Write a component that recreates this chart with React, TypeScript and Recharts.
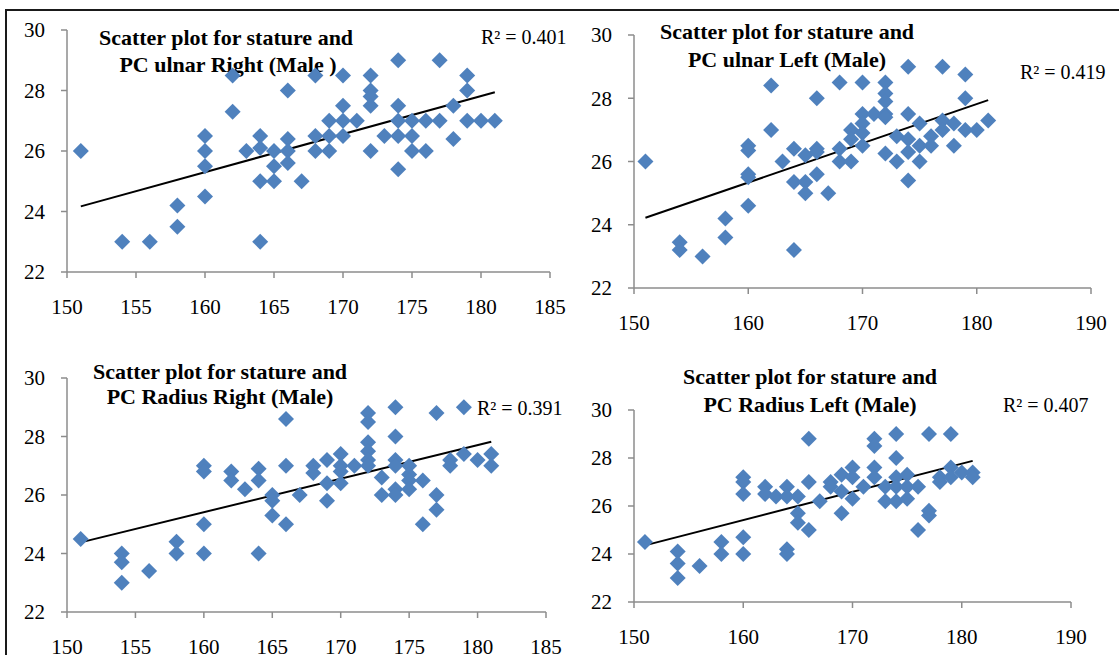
import React from "react"
import { ReferenceLine, Scatter, ScatterChart, XAxis, YAxis } from "recharts"

// stature (cm) vs PC ulnar / radius length, males
const ulnarRight = [
  { x: 151, y: 26 }, { x: 154, y: 23 }, { x: 156, y: 23 }, { x: 158, y: 24.2 }, { x: 158, y: 23.5 },
  { x: 160, y: 26.5 }, { x: 160, y: 26 }, { x: 160, y: 25.5 }, { x: 160, y: 24.5 }, { x: 162, y: 28.5 },
  { x: 162, y: 27.3 }, { x: 163, y: 26 }, { x: 164, y: 26.5 }, { x: 164, y: 26.1 }, { x: 164, y: 25 },
  { x: 164, y: 23 }, { x: 165, y: 26 }, { x: 165, y: 25.5 }, { x: 165, y: 25 }, { x: 166, y: 28 },
  { x: 166, y: 26.4 }, { x: 166, y: 26 }, { x: 166, y: 25.6 }, { x: 167, y: 25 }, { x: 168, y: 28.5 },
  { x: 168, y: 26.5 }, { x: 168, y: 26 }, { x: 169, y: 27 }, { x: 169, y: 26.5 }, { x: 169, y: 26 },
  { x: 170, y: 28.5 }, { x: 170, y: 27.5 }, { x: 170, y: 27 }, { x: 170, y: 26.5 }, { x: 171, y: 27 },
  { x: 172, y: 28.5 }, { x: 172, y: 28 }, { x: 172, y: 27.8 }, { x: 172, y: 27.5 }, { x: 172, y: 26 },
  { x: 173, y: 26.5 }, { x: 174, y: 29 }, { x: 174, y: 27.5 }, { x: 174, y: 27 }, { x: 174, y: 26.5 },
  { x: 174, y: 25.4 }, { x: 175, y: 27 }, { x: 175, y: 26.5 }, { x: 175, y: 26 }, { x: 176, y: 27 },
  { x: 176, y: 26 }, { x: 177, y: 29 }, { x: 177, y: 27 }, { x: 178, y: 27.5 }, { x: 178, y: 26.4 },
  { x: 179, y: 28.5 }, { x: 179, y: 28 }, { x: 179, y: 27 }, { x: 180, y: 27 }, { x: 181, y: 27 },
]

const ulnarLeft = [
  { x: 151, y: 26 }, { x: 154, y: 23.45 }, { x: 154, y: 23.2 }, { x: 156, y: 23 }, { x: 158, y: 24.2 },
  { x: 158, y: 23.6 }, { x: 160, y: 26.5 }, { x: 160, y: 26.35 }, { x: 160, y: 25.6 }, { x: 160, y: 25.5 },
  { x: 160, y: 24.6 }, { x: 162, y: 28.4 }, { x: 162, y: 27 }, { x: 163, y: 26 }, { x: 164, y: 26.4 },
  { x: 164, y: 25.35 }, { x: 164, y: 23.2 }, { x: 165, y: 26.2 }, { x: 165, y: 25.35 }, { x: 165, y: 25 },
  { x: 166, y: 28 }, { x: 166, y: 26.4 }, { x: 166, y: 26.3 }, { x: 166, y: 25.6 }, { x: 167, y: 25 },
  { x: 168, y: 28.5 }, { x: 168, y: 26.4 }, { x: 168, y: 26 }, { x: 169, y: 27 }, { x: 169, y: 26.7 },
  { x: 169, y: 26 }, { x: 170, y: 28.5 }, { x: 170, y: 27.5 }, { x: 170, y: 27.2 }, { x: 170, y: 26.9 },
  { x: 170, y: 26.5 }, { x: 171, y: 27.5 }, { x: 172, y: 28.5 }, { x: 172, y: 28.15 }, { x: 172, y: 27.9 },
  { x: 172, y: 27.5 }, { x: 172, y: 27.4 }, { x: 172, y: 26.25 }, { x: 173, y: 26.8 }, { x: 173, y: 26 },
  { x: 174, y: 29 }, { x: 174, y: 27.5 }, { x: 174, y: 26.7 }, { x: 174, y: 26.3 }, { x: 174, y: 25.4 },
  { x: 175, y: 27.2 }, { x: 175, y: 26.5 }, { x: 175, y: 26 }, { x: 176, y: 26.8 }, { x: 176, y: 26.5 },
  { x: 177, y: 29 }, { x: 177, y: 27.3 }, { x: 177, y: 27 }, { x: 178, y: 27.2 }, { x: 178, y: 26.5 },
  { x: 179, y: 28.75 }, { x: 179, y: 28 }, { x: 179, y: 27 }, { x: 180, y: 27 }, { x: 181, y: 27.3 },
]

const radiusRight = [
  { x: 151, y: 24.5 }, { x: 154, y: 24 }, { x: 154, y: 23.7 }, { x: 154, y: 23 }, { x: 156, y: 23.4 },
  { x: 158, y: 24.4 }, { x: 158, y: 24 }, { x: 160, y: 27 }, { x: 160, y: 26.8 }, { x: 160, y: 25 },
  { x: 160, y: 24 }, { x: 162, y: 26.8 }, { x: 162, y: 26.5 }, { x: 163, y: 26.2 }, { x: 164, y: 26.9 },
  { x: 164, y: 26.5 }, { x: 164, y: 24 }, { x: 165, y: 26 }, { x: 165, y: 25.8 }, { x: 165, y: 25.3 },
  { x: 166, y: 28.6 }, { x: 166, y: 27 }, { x: 166, y: 25 }, { x: 167, y: 26 }, { x: 168, y: 27 },
  { x: 168, y: 26.75 }, { x: 169, y: 27.2 }, { x: 169, y: 26.4 }, { x: 169, y: 25.8 }, { x: 170, y: 27.4 },
  { x: 170, y: 27 }, { x: 170, y: 26.8 }, { x: 170, y: 26.4 }, { x: 171, y: 27 }, { x: 172, y: 28.8 },
  { x: 172, y: 28.5 }, { x: 172, y: 27.8 }, { x: 172, y: 27.5 }, { x: 172, y: 27.2 }, { x: 172, y: 27 },
  { x: 173, y: 26.6 }, { x: 173, y: 26 }, { x: 174, y: 29 }, { x: 174, y: 28 }, { x: 174, y: 27.2 },
  { x: 174, y: 27 }, { x: 174, y: 26.2 }, { x: 174, y: 26 }, { x: 175, y: 27 }, { x: 175, y: 26.7 },
  { x: 175, y: 26.5 }, { x: 175, y: 26.2 }, { x: 176, y: 26.5 }, { x: 176, y: 25 }, { x: 177, y: 28.8 },
  { x: 177, y: 26 }, { x: 177, y: 25.5 }, { x: 178, y: 27.2 }, { x: 178, y: 27 }, { x: 179, y: 29 },
  { x: 179, y: 27.4 }, { x: 180, y: 27.2 }, { x: 181, y: 27.4 }, { x: 181, y: 27 },
]

const radiusLeft = [
  { x: 151, y: 24.5 }, { x: 154, y: 24.1 }, { x: 154, y: 23.6 }, { x: 154, y: 23 }, { x: 156, y: 23.5 },
  { x: 158, y: 24.5 }, { x: 158, y: 24 }, { x: 160, y: 27.2 }, { x: 160, y: 27 }, { x: 160, y: 26.5 },
  { x: 160, y: 24.7 }, { x: 160, y: 24 }, { x: 162, y: 26.8 }, { x: 162, y: 26.5 }, { x: 163, y: 26.4 },
  { x: 164, y: 26.8 }, { x: 164, y: 26.4 }, { x: 164, y: 24.2 }, { x: 164, y: 24 }, { x: 165, y: 26.4 },
  { x: 165, y: 25.7 }, { x: 165, y: 25.3 }, { x: 166, y: 28.8 }, { x: 166, y: 27 }, { x: 166, y: 25 },
  { x: 167, y: 26.2 }, { x: 168, y: 27 }, { x: 168, y: 26.8 }, { x: 169, y: 27.3 }, { x: 169, y: 26.6 },
  { x: 169, y: 25.7 }, { x: 170, y: 27.6 }, { x: 170, y: 27.2 }, { x: 170, y: 26.3 }, { x: 171, y: 26.8 },
  { x: 172, y: 28.8 }, { x: 172, y: 28.5 }, { x: 172, y: 27.6 }, { x: 172, y: 27.2 }, { x: 173, y: 26.8 },
  { x: 173, y: 26.2 }, { x: 174, y: 29 }, { x: 174, y: 28 }, { x: 174, y: 27.2 }, { x: 174, y: 26.8 },
  { x: 174, y: 26.2 }, { x: 175, y: 27.3 }, { x: 175, y: 26.8 }, { x: 175, y: 26.3 }, { x: 176, y: 26.8 },
  { x: 176, y: 25 }, { x: 177, y: 29 }, { x: 177, y: 25.8 }, { x: 177, y: 25.6 }, { x: 178, y: 27.2 },
  { x: 178, y: 27 }, { x: 179, y: 29 }, { x: 179, y: 27.6 }, { x: 179, y: 27.2 }, { x: 180, y: 27.4 },
  { x: 181, y: 27.4 }, { x: 181, y: 27.2 },
]

// linear trend line end points (from the picture)
const trendUlnarRight = [{ x: 151, y: 24.17 }, { x: 181, y: 27.94 }]
const trendUlnarLeft = [{ x: 151, y: 24.22 }, { x: 181, y: 27.94 }]
const trendRadiusRight = [{ x: 151, y: 24.38 }, { x: 181, y: 27.82 }]
const trendRadiusLeft = [{ x: 151, y: 24.36 }, { x: 181, y: 27.88 }]

const ticks5 = [150, 155, 160, 165, 170, 175, 180, 185]
const ticks10 = [150, 160, 170, 180, 190]
const yTicks = [22, 24, 26, 28, 30]

const BLUE = "#4F81BD"
const AXIS = "#8c8c8c"
const SERIF = "'Liberation Serif', 'Times New Roman', serif"

const Diamond = (props: any) => {
  const { cx, cy } = props
  const r = 8
  return (
    <polygon
      points={`${cx},${cy - r} ${cx + r},${cy} ${cx},${cy + r} ${cx - r},${cy}`}
      fill={BLUE}
    />
  )
}

type PanelProps = {
  left: number
  top: number
  width: number
  height: number
  margin: { top: number; right: number; bottom: number; left: number }
  data: { x: number; y: number }[]
  trend: { x: number; y: number }[]
  xTicks: number[]
}

function Panel({ left, top, width, height, margin, data, trend, xTicks }: PanelProps) {
  const tickStyle = { fill: "#000", fontSize: 21, fontFamily: SERIF }
  return (
    <div style={{ position: "absolute", left, top }}>
      <ScatterChart width={width} height={height} margin={margin}>
        <XAxis
          type="number"
          dataKey="x"
          domain={[xTicks[0], xTicks[xTicks.length - 1]]}
          ticks={xTicks}
          interval={0}
          height={40}
          tickSize={6}
          tickMargin={21}
          axisLine={{ stroke: AXIS, strokeWidth: 1.5 }}
          tickLine={{ stroke: AXIS, strokeWidth: 1.5 }}
          tick={tickStyle}
          allowDataOverflow
        />
        <YAxis
          type="number"
          dataKey="y"
          domain={[22, 30]}
          ticks={yTicks}
          interval={0}
          width={50}
          tickSize={6}
          tickMargin={16}
          axisLine={{ stroke: AXIS, strokeWidth: 1.5 }}
          tickLine={{ stroke: AXIS, strokeWidth: 1.5 }}
          tick={tickStyle}
          allowDataOverflow
        />
        <Scatter data={data} shape={Diamond} isAnimationActive={false} />
        <ReferenceLine
          segment={[trend[0], trend[1]]}
          stroke="#000"
          strokeWidth={2}
          ifOverflow="visible"
        />
      </ScatterChart>
    </div>
  )
}

const titleStyle: React.CSSProperties = {
  position: "absolute",
  transform: "translate(-50%, -50%)",
  whiteSpace: "nowrap",
  fontFamily: SERIF,
  fontWeight: "bold",
  fontSize: 22,
  color: "#000",
}

const r2Style: React.CSSProperties = {
  position: "absolute",
  transform: "translateY(-50%)",
  whiteSpace: "nowrap",
  fontFamily: SERIF,
  fontSize: 20,
  color: "#000",
}

export default function App() {
  return (
    <div
      style={{
        position: "absolute",
        left: 0,
        top: 0,
        width: 1119,
        height: 655,
        overflow: "hidden",
        background: "#fff",
      }}
    >
      <div
        style={{
          position: "absolute",
          left: 5,
          top: 9,
          width: 1200,
          height: 700,
          borderTop: "2px solid #1a1a1a",
          borderLeft: "2px solid #1a1a1a",
        }}
      />

      {/* titles and R² labels sit under the points */}
      <div style={{ ...titleStyle, left: 226, top: 38 }}>Scatter plot for stature and</div>
      <div style={{ ...titleStyle, left: 228, top: 65 }}>PC ulnar Right (Male )</div>
      <div style={{ ...r2Style, left: 481, top: 37 }}>R² = 0.401</div>

      <div style={{ ...titleStyle, left: 787, top: 32 }}>Scatter plot for stature and</div>
      <div style={{ ...titleStyle, left: 787, top: 60 }}>PC ulnar Left (Male)</div>
      <div style={{ ...r2Style, left: 1020, top: 72 }}>R² = 0.419</div>

      <div style={{ ...titleStyle, left: 220, top: 372 }}>Scatter plot for stature and</div>
      <div style={{ ...titleStyle, left: 220, top: 397 }}>PC Radius Right (Male)</div>
      <div style={{ ...r2Style, left: 477, top: 408 }}>R² = 0.391</div>

      <div style={{ ...titleStyle, left: 810, top: 377 }}>Scatter plot for stature and</div>
      <div style={{ ...titleStyle, left: 810, top: 405 }}>PC Radius Left (Male)</div>
      <div style={{ ...r2Style, left: 1003, top: 405 }}>R² = 0.407</div>

      <Panel
        left={0}
        top={0}
        width={590}
        height={350}
        margin={{ top: 30, right: 40, bottom: 38, left: 17 }}
        data={ulnarRight}
        trend={trendUlnarRight}
        xTicks={ticks5}
      />
      <Panel
        left={560}
        top={0}
        width={559}
        height={350}
        margin={{ top: 35, right: 28, bottom: 22, left: 24 }}
        data={ulnarLeft}
        trend={trendUlnarLeft}
        xTicks={ticks10}
      />
      <Panel
        left={0}
        top={330}
        width={590}
        height={345}
        margin={{ top: 48, right: 44, bottom: 23, left: 17 }}
        data={radiusRight}
        trend={trendRadiusRight}
        xTicks={ticks5}
      />
      <Panel
        left={560}
        top={330}
        width={559}
        height={345}
        margin={{ top: 80, right: 48, bottom: 33, left: 24 }}
        data={radiusLeft}
        trend={trendRadiusLeft}
        xTicks={ticks10}
      />
    </div>
  )
}
